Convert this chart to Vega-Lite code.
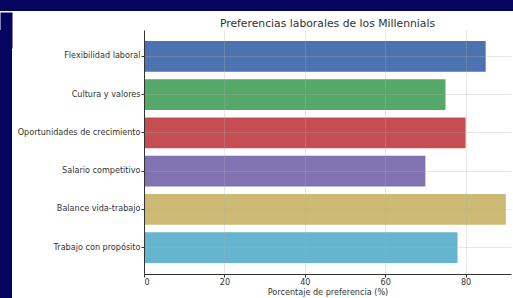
{
  "$schema": "https://vega.github.io/schema/vega-lite/v6.json",
  "padding": 0,
  "background": "white",
  "config": {
    "view": {"stroke": null},
    "font": "DejaVu Sans"
  },
  "spacing": 0,
  "vconcat": [
    {
      "width": 513,
      "height": 11,
      "view": {"fill": "#050560", "stroke": null},
      "data": {"values": []},
      "mark": "rect"
    },
    {
      "spacing": 5,
      "hconcat": [
        {
          "width": 12,
          "height": 269,
          "view": {"fill": "#050560", "stroke": null},
          "data": {"values": []},
          "mark": "rect",
          "encoding": {
            "x": {
              "field": "v",
              "type": "quantitative",
              "scale": {"domain": [0, 1]},
              "axis": {
                "orient": "top",
                "domainColor": "#050560",
                "domainWidth": 36,
                "domainCap": "butt",
                "labels": false,
                "ticks": false,
                "grid": false,
                "title": null
              }
            }
          }
        },
        {
          "width": 367,
          "height": 244,
          "title": {
            "text": ["", "Preferencias laborales de los Millennials"],
            "lineHeight": 6,
            "fontSize": 10.8,
            "fontWeight": "normal",
            "color": "#333333",
            "font": "DejaVu Sans",
            "anchor": "middle",
            "frame": "group",
            "offset": 1.5
          },
          "data": {
            "values": [
              {"categoria": "Flexibilidad laboral", "porcentaje": 85},
              {"categoria": "Cultura y valores", "porcentaje": 75},
              {"categoria": "Oportunidades de crecimiento", "porcentaje": 80},
              {"categoria": "Salario competitivo", "porcentaje": 70},
              {"categoria": "Balance vida-trabajo", "porcentaje": 90},
              {"categoria": "Trabajo con propósito", "porcentaje": 78}
            ]
          },
          "mark": {"type": "bar"},
          "encoding": {
            "y": {
              "field": "categoria",
              "type": "nominal",
              "sort": null,
              "scale": {"paddingInner": 0.2, "paddingOuter": 0.29},
              "axis": {
                "title": null,
                "labelFontSize": 8.1,
                "labelColor": "#333333",
                "labelPadding": 1,
                "tickSize": 3,
                "tickColor": "#333333",
                "domainColor": "#333333",
                "grid": true,
                "gridColor": "#b0b0b0",
                "gridOpacity": 0.3,
                "zindex": 1
              }
            },
            "x": {
              "field": "porcentaje",
              "type": "quantitative",
              "scale": {"domain": [0, 91.3], "nice": false},
              "axis": {
                "values": [0, 20, 40, 60, 80],
                "title": "Porcentaje de preferencia (%)",
                "titleFontSize": 8.1,
                "titleFontWeight": "normal",
                "titleColor": "#333333",
                "titlePadding": 2,
                "labelFontSize": 8.1,
                "labelColor": "#333333",
                "labelPadding": 1,
                "tickSize": 3,
                "tickColor": "#333333",
                "domainColor": "#333333",
                "grid": true,
                "gridColor": "#b0b0b0",
                "gridOpacity": 0.3,
                "zindex": 1
              }
            },
            "color": {
              "field": "categoria",
              "type": "nominal",
              "legend": null,
              "scale": {
                "domain": ["Flexibilidad laboral", "Cultura y valores", "Oportunidades de crecimiento", "Salario competitivo", "Balance vida-trabajo", "Trabajo con propósito"],
                "range": ["#4C72B0", "#55A868", "#C44E52", "#8172B2", "#CCB974", "#64B5CD"]
              }
            }
          }
        }
      ]
    }
  ]
}
